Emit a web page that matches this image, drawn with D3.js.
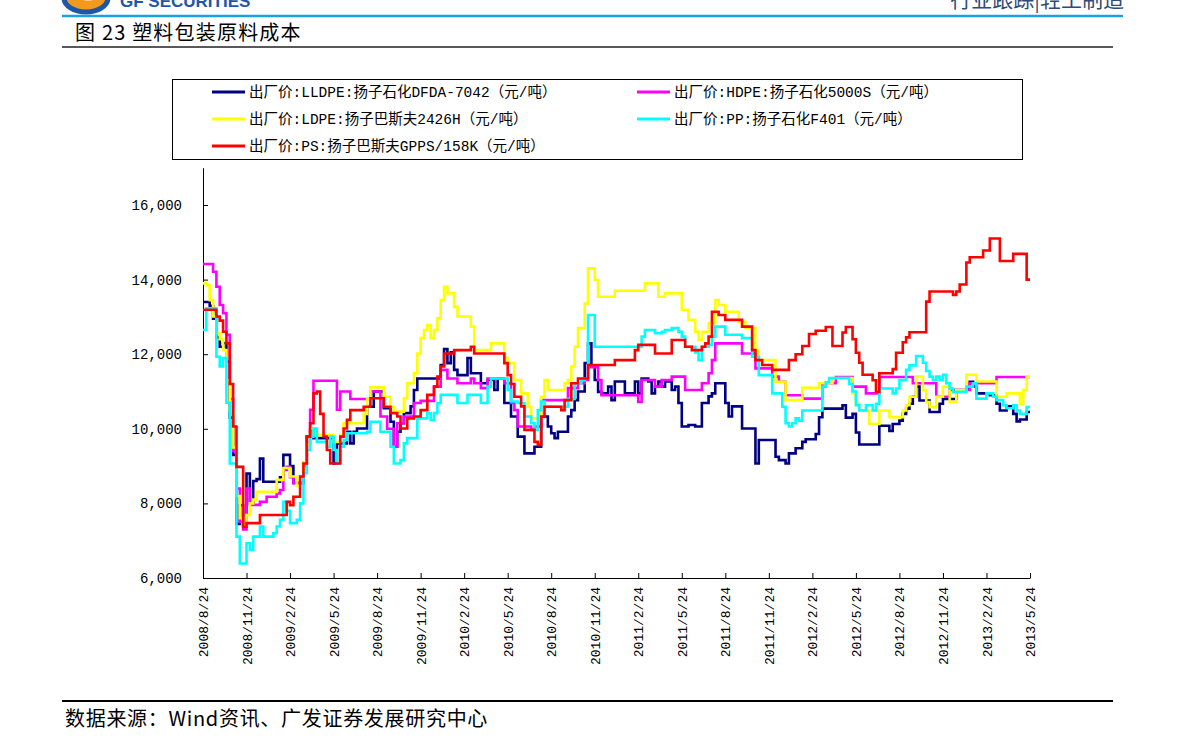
<!DOCTYPE html>
<html><head><meta charset="utf-8">
<script src="https://cdn.jsdelivr.net/npm/d3@7"></script>
<style>body{margin:0;background:#fff;overflow:hidden}</style>
</head><body>
<svg id="c" width="1191" height="751"></svg>
<script>
// ---- data (x = week index since 2008/8/24, value = 元/吨) ----
const tickLabels = ["2008/8/24","2008/11/24","2009/2/24","2009/5/24","2009/8/24","2009/11/24","2010/2/24","2010/5/24","2010/8/24","2010/11/24","2011/2/24","2011/5/24","2011/8/24","2011/11/24","2012/2/24","2012/5/24","2012/8/24","2012/11/24","2013/2/24","2013/5/24"];
const weeksPerTick = 13;
const yTicks = [6000, 8000, 10000, 12000, 14000, 16000];
const seriesNames = ["出厂价:LLDPE:扬子石化DFDA-7042（元/吨）","出厂价:HDPE:扬子石化5000S（元/吨）","出厂价:LDPE:扬子巴斯夫2426H（元/吨）","出厂价:PP:扬子石化F401（元/吨）","出厂价:PS:扬子巴斯夫GPPS/158K（元/吨）"];

const lldpe = [[0,13400],[2,13300],[3,12950],[4,12450],[5,12200],[6,12300],[7,11800],[8,10300],[9,9300],[10,7450],[11,7950],[12,7400],[13,8800],[14,8000],[15,8600],[16,8650],[17,9200],[18,8580],[23,8700],[24,9300],[26,9000],[27,8550],[30,9080],[31,9790],[32,9970],[33,9750],[39,9070],[40,9610],[43,9920],[44,9610],[45,9920],[46,10010],[49,10590],[51,11000],[54,10550],[56,10190],[57,9520],[58,9920],[59,10150],[60,10420],[62,10600],[63,11040],[64,11350],[71,11710],[72,12140],[73,11760],[74,12050],[75,11580],[76,11440],[79,11900],[80,11490],[83,11220],[85,11310],[87,11040],[88,11350],[90,10690],[92,10330],[94,9790],[96,9340],[99,9520],[101,10330],[103,10060],[104,9880],[105,9750],[106,9920],[109,10330],[110,10500],[111,10770],[112,11000],[114,11760],[115,12290],[116,11700],[117,11310],[118,10990],[119,10950],[121,11130],[122,10770],[123,11270],[126,10950],[129,11270],[130,10950],[131,11350],[133,11270],[134,10950],[135,11130],[136,11270],[137,11130],[138,11270],[140,11040],[141,11130],[142,10690],[143,10060],[145,10100],[147,10060],[149,10690],[151,10870],[152,10950],[153,11220],[156,10690],[157,10330],[158,10600],[161,10010],[165,9070],[166,9700],[171,9250],[172,9160],[174,9070],[175,9340],[177,9480],[179,9650],[180,9720],[183,9860],[184,10310],[185,10540],[191,10630],[192,10300],[194,10400],[195,9900],[196,9580],[202,10080],[205,9940],[206,10130],[208,10220],[209,10400],[210,10540],[211,10670],[212,10860],[213,11130],[214,10760],[217,10450],[220,10670],[221,10800],[225,11040],[228,11100],[229,11260],[230,11130],[231,10950],[235,10900],[237,10670],[238,10490],[240,10600],[242,10400],[243,10200],[244,10250],[246,10450]];

const hdpe = [[0,14420],[3,14210],[4,13810],[5,13320],[6,13100],[7,12520],[8,10800],[9,9400],[10,8400],[11,7500],[12,7300],[13,8400],[14,7960],[17,8040],[19,8180],[22,8270],[23,8360],[24,8900],[25,8980],[26,8700],[27,8540],[30,9000],[31,9620],[32,10510],[33,11290],[40,10510],[41,11000],[44,10800],[50,11000],[53,10330],[55,10000],[57,9520],[58,10150],[60,10330],[63,10690],[65,10750],[69,11130],[71,11580],[73,11350],[76,11220],[80,11350],[81,11220],[83,11090],[85,11350],[90,11220],[92,10690],[93,10500],[94,10060],[98,9970],[99,10060],[101,10770],[108,10770],[109,11090],[112,11220],[114,11310],[115,11650],[118,11310],[119,10900],[130,10720],[131,11310],[135,11130],[137,11310],[140,11400],[144,11040],[149,11220],[151,11490],[152,11840],[153,12290],[161,12020],[165,11620],[170,11400],[172,11260],[174,10900],[179,10810],[185,11220],[189,11390],[194,11130],[198,10950],[202,11390],[212,11220],[219,10860],[223,11040],[229,11220],[237,11390]];

const ldpe = [[0,13900],[1,13850],[2,13450],[3,13010],[4,12560],[5,12400],[6,12110],[7,11300],[8,10500],[9,9500],[10,8200],[11,7600],[12,7400],[13,7690],[14,8000],[15,8100],[16,8310],[22,8630],[24,8950],[26,8720],[28,8470],[29,8720],[30,9100],[31,9600],[32,10000],[33,9830],[39,9650],[41,9830],[42,10150],[48,10400],[49,10800],[50,11110],[54,10860],[56,10590],[57,10460],[60,10820],[61,11220],[63,11490],[64,12020],[65,12430],[66,12650],[67,12780],[68,12430],[69,12650],[70,12960],[71,13450],[72,13810],[73,13630],[75,13270],[76,13010],[80,12740],[81,12110],[86,12290],[90,11900],[91,11760],[93,11310],[95,10950],[97,10590],[98,10280],[101,10860],[102,11310],[103,11040],[108,11220],[109,11310],[110,11670],[111,12200],[112,12700],[114,13360],[115,14300],[117,13990],[118,13540],[123,13700],[132,13900],[136,13540],[138,13630],[143,13190],[145,12920],[147,12600],[148,12380],[149,12600],[151,12830],[153,13450],[154,13320],[156,13140],[160,12870],[162,12700],[165,12110],[166,11840],[171,11260],[174,10770],[179,11100],[184,11220],[188,11360],[194,10950],[195,10670],[196,10490],[199,10130],[202,10490],[205,10310],[209,10490],[210,10630],[211,10860],[213,11400],[215,11040],[216,10720],[217,10580],[219,10860],[221,11130],[223,10720],[225,11040],[228,11450],[231,11270],[237,10860],[240,10950],[244,10670],[245,11040],[246,11400]];

const pp = [[0,12650],[1,13230],[4,11930],[5,11670],[6,11900],[7,10700],[8,9070],[10,7110],[11,6390],[13,6930],[14,6750],[15,7110],[17,7380],[18,7110],[21,7200],[22,7380],[23,7560],[24,8040],[25,7800],[26,7470],[28,7560],[29,8000],[30,8810],[31,9430],[32,9790],[33,10010],[34,9650],[37,9520],[38,9790],[39,9430],[40,9070],[41,9520],[42,9700],[43,9880],[49,9920],[50,10190],[53,9920],[56,9520],[57,9070],[59,9160],[60,9610],[61,9750],[64,10280],[67,10420],[68,10240],[69,10420],[70,10690],[71,10910],[76,10690],[79,10910],[83,10690],[85,11130],[86,11350],[91,11040],[92,10730],[94,10690],[96,10330],[98,10150],[99,9970],[100,10500],[101,10730],[102,10590],[109,10800],[111,11220],[113,11300],[114,11350],[115,13050],[117,12200],[131,12470],[132,12650],[135,12560],[137,12600],[138,12650],[140,12700],[142,12600],[143,12470],[144,12200],[147,12050],[148,11840],[149,12200],[151,12250],[152,12470],[153,12740],[156,12520],[161,12430],[164,11930],[166,11440],[170,10950],[173,10590],[174,10150],[175,10060],[176,10150],[177,10280],[178,10220],[179,10490],[185,11130],[186,11250],[187,11360],[193,11200],[194,11000],[195,10630],[196,10490],[198,10630],[200,10490],[201,10670],[202,11080],[206,10950],[207,11080],[208,11310],[210,11580],[211,11700],[213,11950],[215,11770],[216,11550],[217,11400],[218,11300],[219,11400],[220,11300],[221,11450],[222,11220],[223,11080],[224,10990],[228,11130],[230,11220],[231,10810],[234,10950],[236,10860],[237,10770],[239,10630],[240,10550],[242,10630],[243,10490],[244,10400],[246,10580]];

const ps = [[0,13190],[4,13010],[5,12900],[6,12600],[7,12290],[8,11200],[9,10060],[10,8980],[12,7370],[13,7470],[17,7690],[25,8040],[26,7950],[27,8180],[29,8720],[30,9070],[31,9790],[32,10150],[33,10950],[34,11000],[35,10400],[36,9790],[37,9430],[38,9070],[41,9790],[42,10010],[43,10240],[44,10500],[48,10590],[50,10820],[54,10590],[56,10420],[58,10330],[59,10010],[61,10280],[63,10330],[65,10500],[67,10910],[69,11130],[70,11400],[71,11670],[72,12020],[75,12110],[80,12200],[81,12020],[90,11760],[91,11440],[92,11200],[93,10860],[95,10600],[96,9970],[99,9650],[100,9570],[101,10330],[102,10590],[107,10500],[108,10770],[110,11220],[112,11350],[115,11710],[123,11840],[129,12110],[130,12250],[135,12020],[140,12380],[144,12200],[146,12110],[149,12200],[150,12290],[151,12470],[152,13140],[154,13050],[156,12920],[161,12740],[164,12110],[165,11840],[167,11710],[170,11580],[175,11840],[177,12000],[179,12220],[181,12540],[183,12630],[186,12730],[188,12220],[191,12580],[192,12730],[194,12400],[195,12040],[196,11770],[197,11450],[200,11300],[201,10990],[202,11490],[206,11600],[207,12040],[209,12320],[210,12450],[211,12590],[216,13410],[217,13680],[224,13590],[225,13680],[226,13870],[228,14460],[229,14600],[233,14780],[235,15100],[238,14500],[242,14690],[246,14000]];

// ---- styles ----
const colors = ["#000080","#ff00ff","#ffff00","#00ffff","#ff0000"];
const seriesData = [lldpe, hdpe, ldpe, pp, ps];

const svg = d3.select("#c");
const lastWeek = (tickLabels.length - 1) * weeksPerTick;
const x = d3.scaleLinear().domain([0, lastWeek]).range([203, 1030]);
const y = d3.scaleLinear().domain([6000, 17000]).range([578, 167.7]);
const monoFont = "'Liberation Mono', 'Noto Sans CJK SC', monospace";
const cjkFont = "'Noto Sans CJK SC', sans-serif";

// header
const logo = svg.append("g");
logo.append("ellipse").attr("cx", 86).attr("cy", -4).attr("rx", 22).attr("ry", 14).attr("fill", "#f39a1e");
logo.append("path").attr("d", "M64,-2 A22,14 0 0,0 108,-2").attr("fill", "none").attr("stroke", "#1d58a6").attr("stroke-width", 5);
logo.append("path").attr("d", "M74,-6 Q90,6 104,-8").attr("fill", "none").attr("stroke", "#ffffff").attr("stroke-width", 2);
svg.append("text").attr("x", 120).attr("y", 7).attr("font-family", "'Liberation Sans', Arial, sans-serif")
  .attr("font-weight", "bold").attr("font-size", 17).attr("fill", "#1d58a6").text("GF SECURITIES");
svg.append("text").attr("x", 1124).attr("y", 7).attr("text-anchor", "end").attr("font-family", cjkFont)
  .attr("font-size", 21).attr("fill", "#2f4a78").text("行业跟踪|轻工制造");
svg.append("line").attr("x1", 62).attr("x2", 1123).attr("y1", 16).attr("y2", 16).attr("stroke", "#1ba1e2").attr("stroke-width", 2.5);
svg.append("text").attr("x", 75).attr("y", 40).attr("font-family", cjkFont).attr("font-size", 20).attr("letter-spacing", 1.2).attr("fill", "#000")
  .text("图 23 塑料包装原料成本");
svg.append("line").attr("x1", 62).attr("x2", 1113).attr("y1", 47).attr("y2", 47).attr("stroke", "#222").attr("stroke-width", 1.5);

// footer
svg.append("line").attr("x1", 62).attr("x2", 1113).attr("y1", 701).attr("y2", 701).attr("stroke", "#000").attr("stroke-width", 2);
svg.append("text").attr("x", 65).attr("y", 726).attr("font-family", cjkFont).attr("font-size", 20).attr("letter-spacing", 0.7).attr("fill", "#000")
  .text("数据来源：Wind资讯、广发证券发展研究中心");

// legend
svg.append("rect").attr("x", 172.5).attr("y", 79.5).attr("width", 850).attr("height", 80)
  .attr("fill", "#fff").attr("stroke", "#000").attr("stroke-width", 1);
const legCols = [212, 637], legRows = [92, 119, 146];
seriesNames.forEach((n, i) => {
  const lx = legCols[i % 2], ly = legRows[Math.floor(i / 2)];
  svg.append("line").attr("x1", lx).attr("x2", lx + 33).attr("y1", ly).attr("y2", ly)
    .attr("stroke", colors[i]).attr("stroke-width", 3);
  svg.append("text").attr("x", lx + 37).attr("y", ly).attr("dy", "0.36em").attr("font-family", monoFont)
    .attr("font-size", 14.5).attr("fill", "#000").text(n);
});

// axes
const yAxis = d3.axisLeft(y).tickValues(yTicks).tickSize(-5).tickSizeOuter(0).tickPadding(21).tickFormat(d3.format(","));
const gy = svg.append("g").attr("transform", "translate(203,0)").call(yAxis);
gy.selectAll("text").attr("font-family", monoFont).attr("font-size", 14).attr("fill", "#000");
gy.selectAll("line,path").attr("stroke", "#000");

const xAxis = d3.axisBottom(x).tickValues(d3.range(0, lastWeek + 1, weeksPerTick)).tickSize(-5).tickSizeOuter(0)
  .tickFormat((d, i) => tickLabels[i]);
const gx = svg.append("g").attr("transform", "translate(0,578)").call(xAxis);
gx.selectAll("text").attr("font-family", monoFont).attr("font-size", 13).attr("fill", "#000")
  .attr("transform", "rotate(-90)").attr("x", -9).attr("y", 0).attr("dy", "0.35em").style("text-anchor", "end");
gx.selectAll("line,path").attr("stroke", "#000");

// lines
const line = d3.line().x(d => x(d[0])).y(d => y(d[1])).curve(d3.curveStepAfter);
seriesData.forEach((s, i) => {
  const pts = s.concat([[lastWeek, s[s.length - 1][1]]]);
  svg.append("path").datum(pts).attr("d", line).attr("fill", "none")
    .attr("stroke", colors[i]).attr("stroke-width", 2.6).attr("stroke-linejoin", "miter");
});
</script>
</body></html>
